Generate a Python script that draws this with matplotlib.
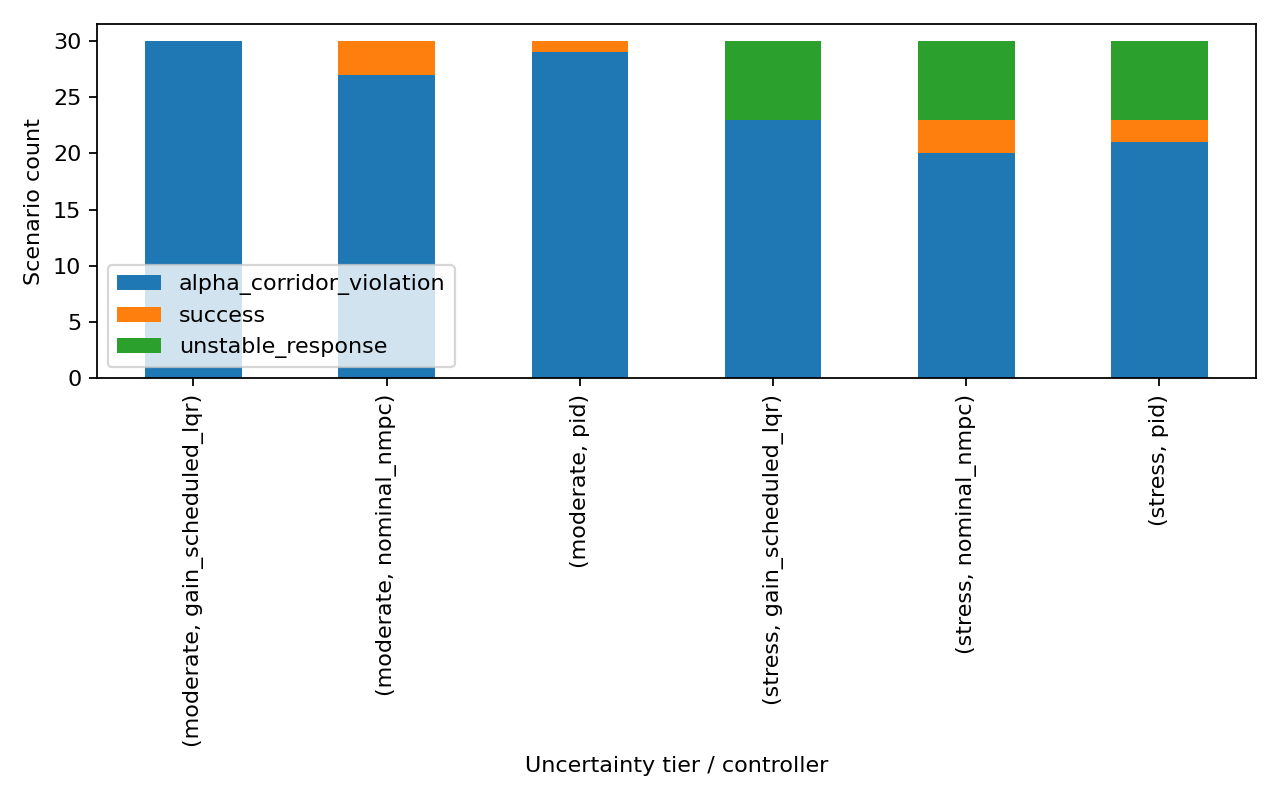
import pandas as pd
import matplotlib.pyplot as plt

tiers = ["moderate", "moderate", "moderate", "stress", "stress", "stress"]
controllers = ["gain_scheduled_lqr", "nominal_nmpc", "pid",
               "gain_scheduled_lqr", "nominal_nmpc", "pid"]
alpha_corridor_violation = [30, 27, 29, 23, 20, 21]
success = [0, 3, 1, 0, 3, 2]
unstable_response = [0, 0, 0, 7, 7, 7]

idx = pd.MultiIndex.from_arrays([tiers, controllers])
df = pd.DataFrame({
    "alpha_corridor_violation": alpha_corridor_violation,
    "success": success,
    "unstable_response": unstable_response,
}, index=idx)

fig, ax = plt.subplots(figsize=(8, 5), dpi=160)
df.plot(kind="bar", stacked=True, ax=ax)
ax.set_xticklabels([f"({t}, {c})" for t, c in zip(tiers, controllers)])
ax.set_xlabel("Uncertainty tier / controller")
ax.set_ylabel("Scenario count")
ax.legend(loc="lower left")
plt.tight_layout()
plt.savefig("out.png")
